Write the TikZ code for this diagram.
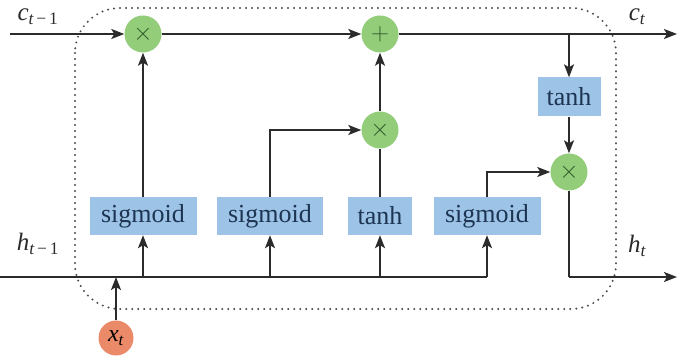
\documentclass[tikz,border=0pt]{standalone}
\usepackage{fontspec}
\setmainfont{Liberation Serif}
\usetikzlibrary{arrows.meta}
\definecolor{gatefill}{HTML}{9DC3E6}
\definecolor{opfill}{HTML}{93CD7A}
\definecolor{infill}{HTML}{EA8A68}
\definecolor{boxtext}{HTML}{1D3552}
\definecolor{wire}{HTML}{2B2B2B}
\definecolor{opsign}{HTML}{2F5A2A}
\tikzset{
  gate/.style={fill=gatefill, text=boxtext, minimum height=38pt, inner sep=0pt,
    font=\fontsize{26}{26}\selectfont},
  op/.style={circle, fill=opfill, minimum size=37pt, inner sep=0pt,
    font=\fontsize{24}{24}\selectfont, text=opsign},
  inp/.style={circle, fill=infill, minimum size=35pt, inner sep=0pt,
    font=\fontsize{24}{24}\selectfont\itshape},
  wireline/.style={draw=wire, line width=1.8pt},
  flow/.style={wireline, -{Stealth[length=13pt, width=10pt, inset=3pt]}},
  lbl/.style={text=wire, font=\fontsize{25}{25}\selectfont\itshape},
  cellborder/.style={draw=wire!85, line width=2.2pt, line cap=round,
    dash pattern=on 0pt off 6pt, rounded corners=45pt}
}
\begin{document}
\begin{tikzpicture}[x=1pt, y=-1pt]
  \useasboundingbox (0,0) rectangle (678,363);

  % cell boundary
  \draw[cellborder] (75,8) rectangle (616,309);

  % pointwise operations
  \node[op] (mulf) at (143,34) {$\times$};
  \node[op] (add)  at (380,34) {$+$};
  \node[op] (muli) at (380,130) {$\times$};
  \node[op] (mulo) at (569,172) {$\times$};

  % gates
  \node[gate, minimum width=107pt] (sgf) at (143,216) {sigmoid};
  \node[gate, minimum width=106pt] (sgi) at (270,216) {sigmoid};
  \node[gate, minimum width=64pt]  (tnc) at (380,216) {tanh};
  \node[gate, minimum width=107pt] (sgo) at (487,216) {sigmoid};
  \node[gate, minimum width=63pt, minimum height=39pt] (tnh) at (569,97) {tanh};

  % input
  \node[inp] (xt) at (116,338) {x\textsubscript{\itshape t}};

  % wire end points
  \coordinate (cin)  at (10,34);
  \coordinate (cout) at (677,34);
  \coordinate (cbr)  at (569,34);
  \coordinate (hin)  at (0,277);
  \coordinate (hout) at (677,277);
  \coordinate (hend) at (487,277);
  \coordinate (hf)   at (143,277);
  \coordinate (hi)   at (270,277);
  \coordinate (hc)   at (380,277);
  \coordinate (hx)   at (116,277);
  \coordinate (hturn) at (569,277);

  % cell state path
  \draw[flow] (cin) -- (mulf);
  \draw[flow] (mulf) -- (add);
  \draw[flow] (add) -- (cout);
  \draw[flow] (cbr) -- (tnh);
  \draw[flow] (tnh) -- (mulo);

  % hidden state path
  \draw[wireline] (hin) -- (hend);
  \draw[flow] (hend) -- (sgo);
  \draw[flow] (hf) -- (sgf);
  \draw[flow] (hi) -- (sgi);
  \draw[flow] (hc) -- (tnc);
  \draw[flow] (xt) -- (hx);

  % gate outputs
  \draw[flow] (sgf) -- (mulf);
  \draw[flow] (sgi.north) |- (muli.west);
  \draw[wireline] (tnc) -- (muli);
  \draw[flow] (muli) -- (add);
  \draw[flow] (sgo.north) |- (mulo.west);
  \draw[wireline] (mulo) -- (hturn);
  \draw[flow] (hturn) -- (hout);

  % labels
  \node[lbl] (lc0) at (38,17) {c\textsubscript{\itshape t\,\upshape −\,1}};
  \node[lbl] (lc1) at (637,17) {c\textsubscript{\itshape t}};
  \node[lbl] (lh0) at (38,244) {h\textsubscript{\itshape t\,\upshape −\,1}};
  \node[lbl] (lh1) at (637,246) {h\textsubscript{\itshape t}};
\end{tikzpicture}
\end{document}
